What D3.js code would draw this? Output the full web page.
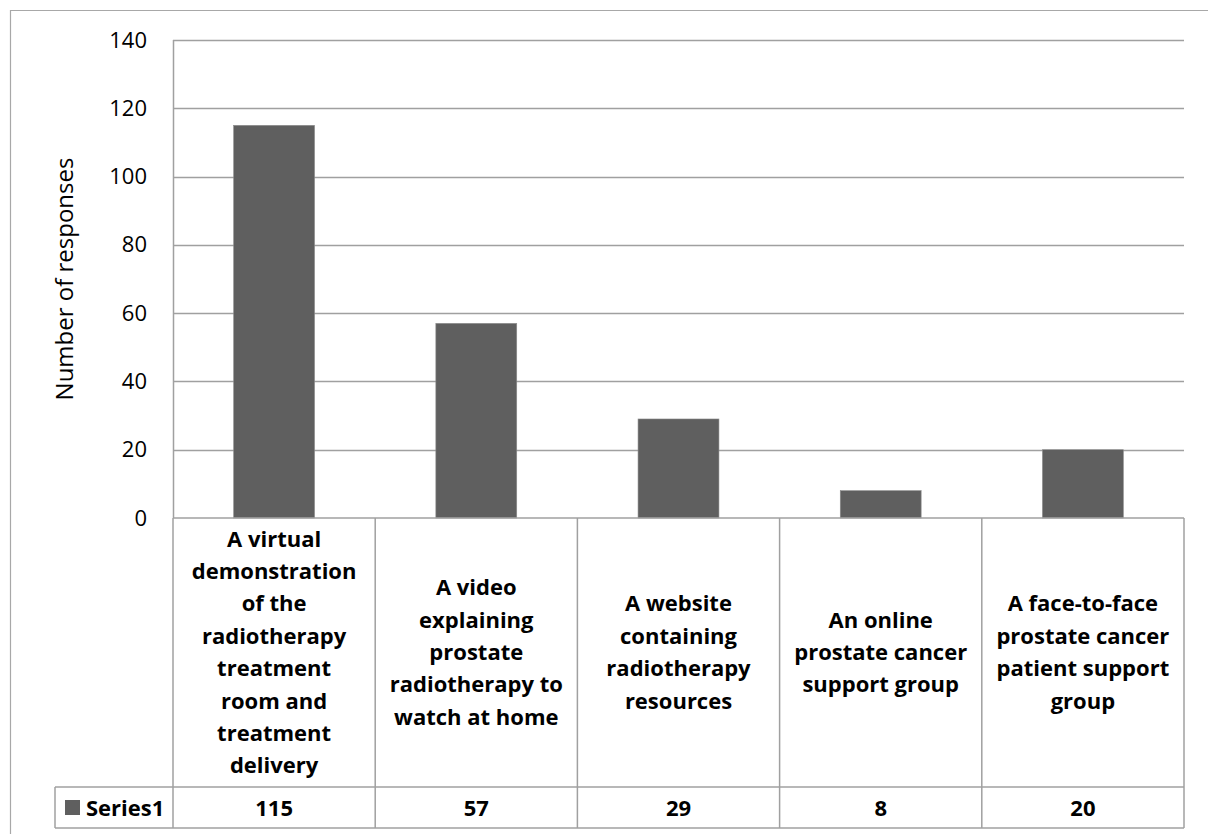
<!DOCTYPE html>
<html>
<head>
<meta charset="utf-8">
<script src="https://cdn.jsdelivr.net/npm/d3@7"></script>
<style>
  html, body { margin: 0; padding: 0; background: #fff; }
  svg { display: block; }
  text { font-family: "Open Sans", "DejaVu Sans", sans-serif; fill: #000; }
</style>
</head>
<body>
<svg id="chart" width="1208" height="834"></svg>
<script>
// Responses per proposed resource
const categories = [
  "A virtual demonstration of the radiotherapy treatment room and treatment delivery",
  "A video explaining prostate radiotherapy to watch at home",
  "A website containing radiotherapy resources",
  "An online prostate cancer support group",
  "A face-to-face prostate cancer patient support group"
];
// Line breaks used in the data-table header cells
const categoryLines = [
  ["A virtual", "demonstration", "of the", "radiotherapy", "treatment", "room and", "treatment", "delivery"],
  ["A video", "explaining", "prostate", "radiotherapy to", "watch at home"],
  ["A website", "containing", "radiotherapy", "resources"],
  ["An online", "prostate cancer", "support group"],
  ["A face-to-face", "prostate cancer", "patient support", "group"]
];
const seriesName = "Series1";
const values = [115, 57, 29, 8, 20];
const yTicks = [0, 20, 40, 60, 80, 100, 120, 140];
const yTitle = "Number of responses";

const svg = d3.select("#chart");
const plotLeft = 173, plotRight = 1184, plotTop = 40, plotBase = 518;
const tableHeaderBottom = 787, tableBottom = 828, legendLeft = 55;
const gridColor = "#a0a0a0";
const barColor = "#5f5f5f";

// Outer chart frame
svg.append("path")
  .attr("d", `M10.5,834 V10.5 H1208`)
  .attr("fill", "none").attr("stroke", "#a8a8a8").attr("stroke-width", 1.2);

const y = d3.scaleLinear().domain([0, 140]).range([plotBase, plotTop]);
const x = d3.scaleBand().domain(categories).range([plotLeft, plotRight])
  .paddingInner(0.6).paddingOuter(0.3);
const cell = d3.scaleBand().domain(categories).range([plotLeft, plotRight]).padding(0);

// Horizontal gridlines
svg.append("g").selectAll("line").data(yTicks.filter(d => d > 0)).join("line")
  .attr("x1", plotLeft).attr("x2", plotRight)
  .attr("y1", d => Math.round(y(d)) + 0.5).attr("y2", d => Math.round(y(d)) + 0.5)
  .attr("stroke", gridColor).attr("stroke-width", 1.5);

// Value axis with tick labels only
const yAxis = svg.append("g").attr("transform", `translate(${plotLeft},0)`)
  .call(d3.axisLeft(y).tickValues(yTicks).tickSize(0).tickPadding(26).tickFormat(d3.format("d")));
yAxis.select(".domain").remove();
yAxis.selectAll("text").style("font-size", "22px").style("font-family", "'Open Sans', sans-serif").attr("fill", "#000");

svg.append("line")
  .attr("x1", plotLeft + 0.5).attr("x2", plotLeft + 0.5).attr("y1", plotTop).attr("y2", plotBase)
  .attr("stroke", gridColor).attr("stroke-width", 1.5);

// Axis title
svg.append("text")
  .attr("transform", `translate(73,${(plotTop + plotBase) / 2}) rotate(-90)`)
  .attr("text-anchor", "middle")
  .style("font-size", "24px")
  .text(yTitle);

// Bars
svg.append("g").selectAll("rect").data(values).join("rect")
  .attr("x", (d, i) => x(categories[i]))
  .attr("width", x.bandwidth())
  .attr("y", d => y(d))
  .attr("height", d => y(0) - y(d))
  .attr("fill", barColor)
  .attr("stroke", "#8a8a8a").attr("stroke-width", 0.6);

// Data table grid
const tbl = svg.append("g").attr("fill", "none").attr("stroke", gridColor).attr("stroke-width", 1.5);
tbl.append("line").attr("x1", plotLeft).attr("x2", plotRight).attr("y1", plotBase).attr("y2", plotBase);
tbl.append("line").attr("x1", legendLeft).attr("x2", plotRight).attr("y1", tableHeaderBottom).attr("y2", tableHeaderBottom);
tbl.append("line").attr("x1", legendLeft).attr("x2", plotRight).attr("y1", tableBottom).attr("y2", tableBottom);
tbl.append("line").attr("x1", legendLeft).attr("x2", legendLeft).attr("y1", tableHeaderBottom).attr("y2", tableBottom);
tbl.selectAll(".col").data(categories.concat([null])).join("line")
  .attr("x1", (d, i) => plotLeft + i * cell.step()).attr("x2", (d, i) => plotLeft + i * cell.step())
  .attr("y1", plotBase).attr("y2", tableBottom);

// Header cells: category labels
const lineH = 32.4;
const hdr = svg.append("g");
categoryLines.forEach((lines, i) => {
  const cx = cell(categories[i]) + cell.bandwidth() / 2;
  const cy = (plotBase + tableHeaderBottom) / 2;
  const t = hdr.append("text")
    .attr("text-anchor", "middle")
    .style("font-size", "22px").style("font-weight", "bold");
  lines.forEach((ln, j) => {
    t.append("tspan").attr("x", cx)
      .attr("y", cy + (j - (lines.length - 1) / 2) * lineH + 7.5)
      .text(ln);
  });
});

// Series row: legend key, name and values
const rowMid = (tableHeaderBottom + tableBottom) / 2;
svg.append("rect").attr("x", 65).attr("y", rowMid - 7.5).attr("width", 15).attr("height", 15).attr("fill", barColor);
svg.append("text").attr("x", 86).attr("y", rowMid + 8)
  .style("font-size", "22px").style("font-weight", "bold").text(seriesName);
svg.append("g").selectAll("text").data(values).join("text")
  .attr("x", (d, i) => cell(categories[i]) + cell.bandwidth() / 2)
  .attr("y", rowMid + 8)
  .attr("text-anchor", "middle")
  .style("font-size", "22px").style("font-weight", "bold")
  .text(d => d);
</script>
</body>
</html>
